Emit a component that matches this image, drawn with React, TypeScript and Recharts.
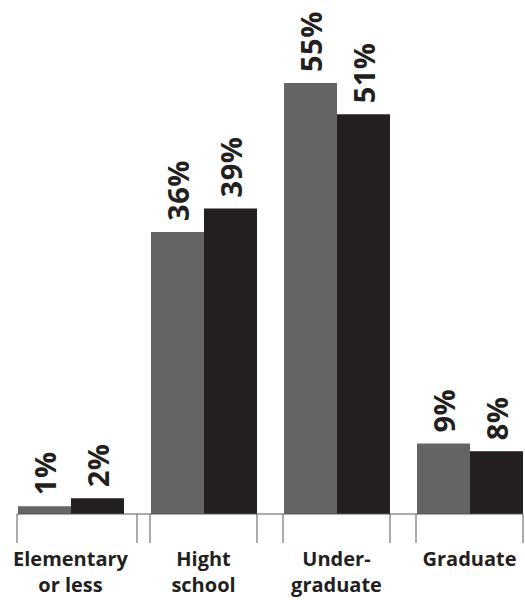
import { BarChart, Bar, XAxis, YAxis, LabelList } from 'recharts';

const categories = ['Elementary|or less', 'Hight|school', 'Under-|graduate', 'Graduate'];
const seriesA = [1, 36, 55, 9];
const seriesB = [2, 39, 51, 8];

const data = categories.map((c, i) => ({ name: c, a: seriesA[i], b: seriesB[i] }));

const CHART_W = 540;
const SIDE = 4;
const BAND = (CHART_W - SIDE * 2) / categories.length;
const BAR = 53;
const HALF_GROUP = BAR + 0.5;
const FONT = '"Open Sans", "DejaVu Sans", sans-serif';
const INK = '#231f20';
const GRAY = '#646466';
const RULE = '#58585a';

const ValueLabel = (props: any) => {
  const { x, y, width, value } = props;
  const cx = x + width / 2;
  const ty = y - 11;
  return (
    <text
      x={cx}
      y={ty}
      transform={`rotate(-90, ${cx}, ${ty})`}
      textAnchor="start"
      dominantBaseline="central"
      fontFamily={FONT}
      fontWeight={700}
      fontSize={29}
      letterSpacing={0.5}
      fill={INK}
    >
      {value}%
    </text>
  );
};

const GroupTick = (props: any) => {
  const { x, y, payload, index } = props;
  const last = categories.length - 1;
  const left = x - HALF_GROUP;
  const right = index === 0 ? x + BAND / 2 : x + HALF_GROUP;
  const hFrom = index === 0 ? left : x - BAND / 2;
  const hTo = index === last ? x + HALF_GROUP : x + BAND / 2;
  const lines = String(payload.value).split('|');
  return (
    <g>
      <line x1={hFrom} x2={hTo} y1={y} y2={y} stroke={RULE} strokeWidth={1} />
      <line x1={left} x2={left} y1={y} y2={y + 29} stroke={RULE} strokeWidth={1} />
      <line x1={right} x2={right} y1={y} y2={y + 29} stroke={RULE} strokeWidth={1} />
      {lines.map((t, i) => (
        <text
          key={i}
          x={x}
          y={y + 52 + i * 26}
          textAnchor="middle"
          fontFamily={FONT}
          fontWeight={700}
          fontSize={20}
          fill={INK}
        >
          {t}
        </text>
      ))}
    </g>
  );
};

export default function App() {
  return (
    <div style={{ position: 'absolute', left: 0, top: 0, width: 525, height: 600, overflow: 'hidden', background: '#fff' }}>
      <BarChart
        width={CHART_W}
        height={600}
        data={data}
        margin={{ top: 83, right: SIDE, left: SIDE, bottom: 0 }}
        barGap={0}
        barSize={BAR}
      >
        <XAxis
          dataKey="name"
          height={86}
          axisLine={false}
          tickLine={false}
          tickSize={0}
          tickMargin={0}
          interval={0}
          tick={<GroupTick />}
        />
        <YAxis hide domain={[0, 55]} />
        <Bar dataKey="a" fill={GRAY} isAnimationActive={false}>
          <LabelList dataKey="a" content={<ValueLabel />} />
        </Bar>
        <Bar dataKey="b" fill={INK} isAnimationActive={false}>
          <LabelList dataKey="b" content={<ValueLabel />} />
        </Bar>
      </BarChart>
    </div>
  );
}
